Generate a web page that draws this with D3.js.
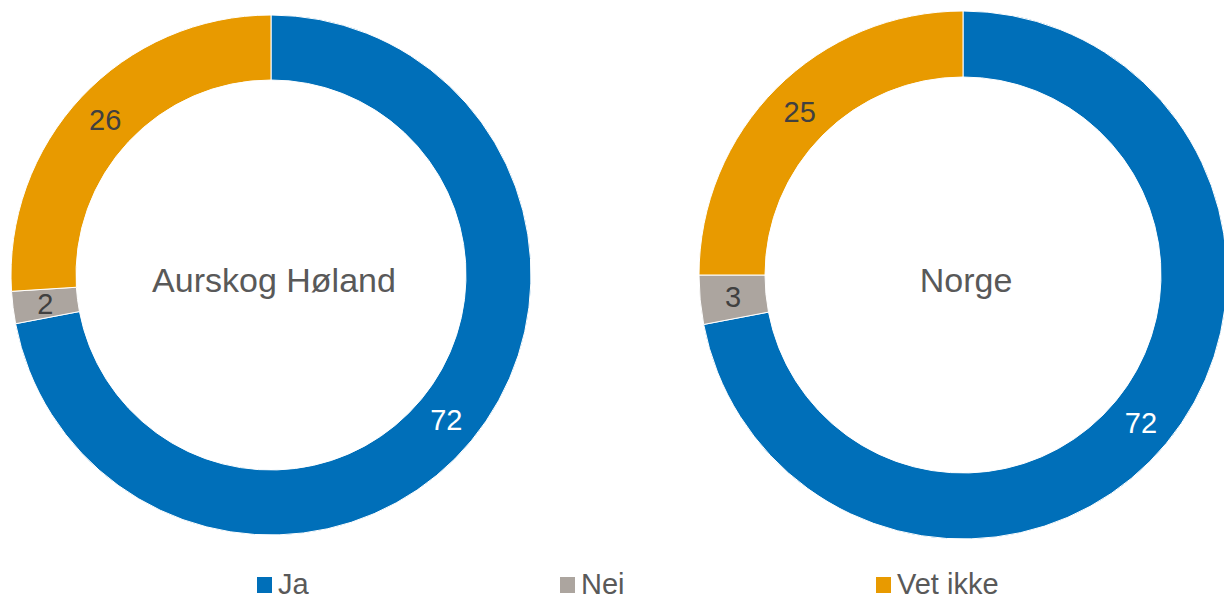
<!DOCTYPE html>
<html>
<head>
<meta charset="utf-8">
<script src="https://cdn.jsdelivr.net/npm/d3@7"></script>
<style>
  body { margin: 0; background: #fff; }
  svg { display: block; font-family: "Liberation Sans", Arial, sans-serif; }
</style>
</head>
<body>
<div id="container"></div>
<script>
// data
let categories = ["Ja", "Nei", "Vet ikke"];
let regions = ["Aurskog Høland", "Norge"];
let valuesAurskog = [72, 2, 26];
let valuesNorge = [72, 3, 25];
let colors = ["#006FB9", "#ACA59F", "#E89A00"];

let w = 1224, h = 594;

let svg = d3.select("div#container").append("svg")
    .attr("width", w).attr("height", h);

let color = d3.scaleOrdinal().domain(categories).range(colors);

// layout of each donut: centre and radii
let donuts = [
    {name: regions[0], values: valuesAurskog, cx: 271, cy: 275, r: 260, r0: 195},
    {name: regions[1], values: valuesNorge, cx: 963, cy: 275, r: 264, r0: 198}
];

let pie = d3.pie().sort(null).value(d => d.value);

donuts.forEach(dn => {
    let data = categories.map((c, i) => ({cat: c, value: dn.values[i]}));
    let arc = d3.arc().innerRadius(dn.r0).outerRadius(dn.r);
    let g = svg.append("g").attr("transform", "translate(" + dn.cx + "," + dn.cy + ")");

    let arcs = pie(data);
    g.selectAll("path")
        .data(arcs)
        .enter()
        .append("path")
        .attr("d", arc)
        .attr("fill", d => color(d.data.cat))
        .attr("stroke", "#fff")
        .attr("stroke-width", 1);

    g.selectAll("text.lbl")
        .data(arcs)
        .enter()
        .append("text")
        .attr("class", "lbl")
        .attr("transform", d => "translate(" + arc.centroid(d) + ")")
        .attr("text-anchor", "middle")
        .attr("dy", "0.36em")
        .style("font-size", "29px")
        .attr("fill", d => d.data.cat === "Ja" ? "#fff" : "#404040")
        .text(d => d.data.value);

    // name in the middle
    g.append("text")
        .attr("x", 3)
        .attr("y", 17)
        .attr("text-anchor", "middle")
        .style("font-size", "34px")
        .attr("fill", "#595959")
        .text(dn.name);
});

// legend (cut at the bottom edge like the original)
let legendX = [257, 560, 876];
let legend = svg.selectAll("g.legend")
    .data(categories)
    .enter()
    .append("g")
    .attr("class", "legend")
    .attr("transform", (d, i) => "translate(" + legendX[i] + ",577)");
legend.append("rect")
    .attr("width", 15).attr("height", 16)
    .attr("fill", d => color(d));
legend.append("text")
    .attr("x", 21)
    .attr("y", 17)
    .style("font-size", "29px")
    .attr("fill", "#595959")
    .text(d => d);
</script>
</body>
</html>
